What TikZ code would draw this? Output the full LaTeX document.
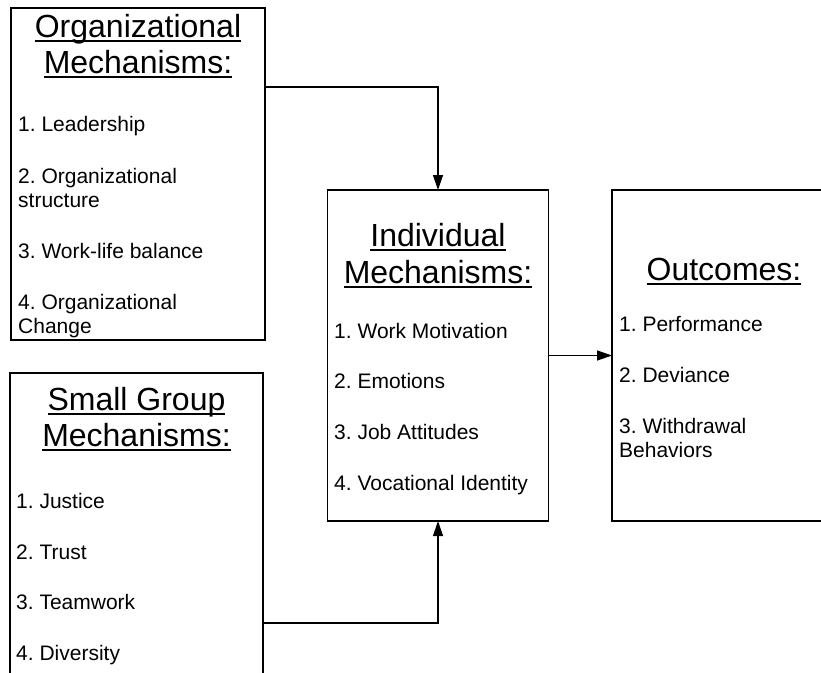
\documentclass[tikz,border=0pt]{standalone}
\usepackage{fontspec}
\setmainfont{Liberation Sans}
\usetikzlibrary{arrows.meta,calc}
\frenchspacing

% heading text with a thick rule under it
\newsavebox\headsave
\newcommand\headrule[1]{\sbox\headsave{#1}\rlap{\rule[-4.5pt]{\wd\headsave}{2pt}}\usebox\headsave}

\begin{document}
\begin{tikzpicture}[x=1pt,y=-1pt,
  box/.style={draw=black,line width=1.3pt,fill=white,rectangle,inner sep=0pt,outer sep=0pt,anchor=north west},
  head/.style={font=\fontsize{32}{36}\selectfont,inner sep=0pt,anchor=base},
  item/.style={font=\fontsize{21}{24}\selectfont,inner sep=0pt,anchor=base west},
  conn/.style={draw=black,line width=1.3pt,-{Triangle[length=15pt,width=10pt]}}]

\useasboundingbox (0,0) rectangle (821,672);
\clip (0,0) rectangle (821,672);

% boxes
\node[box,minimum width=254pt,minimum height=332pt] (org) at (11,8) {};
\node[box,minimum width=253pt,minimum height=320pt] (grp) at (10,373) {};
\node[box,minimum width=221pt,minimum height=331pt] (ind) at (327.5,190) {};
\node[box,minimum width=224pt,minimum height=331pt] (out) at (612,190) {};

% organizational mechanisms
\node[head] (org-h1) at (138,37) {\headrule{Organizational}};
\node[head] (org-h2) at (138,73) {\headrule{Mechanisms:}};
\node[item] (org-1) at (18,131) {1. Leadership};
\node[item] (org-2a) at (18,183) {2. Organizational};
\node[item] (org-2b) at (18,207) {structure};
\node[item] (org-3) at (18,258) {3. Work-life balance};
\node[item] (org-4a) at (18,309) {4. Organizational};
\node[item] (org-4b) at (18,333) {Change};

% small group mechanisms
\node[head] (grp-h1) at (136.5,410) {\headrule{Small Group}};
\node[head] (grp-h2) at (136.5,446) {\headrule{Mechanisms:}};
\node[item] (grp-1) at (16,508) {1. Justice};
\node[item] (grp-2) at (16,559) {2. Trust};
\node[item] (grp-3) at (16,609) {3. Teamwork};
\node[item] (grp-4) at (16,660) {4. Diversity};

% individual mechanisms
\node[head] (ind-h1) at (438,246) {\headrule{Individual}};
\node[head] (ind-h2) at (438,283) {\headrule{Mechanisms:}};
\node[item] (ind-1) at (334,338) {1. Work Motivation};
\node[item] (ind-2) at (334,388) {2. Emotions};
\node[item] (ind-3) at (334,439) {3. Job Attitudes};
\node[item] (ind-4) at (334,490) {4. Vocational Identity};

% outcomes
\node[head] (out-h) at (724,280) {\headrule{Outcomes:}};
\node[item] (out-1) at (619,331) {1. Performance};
\node[item] (out-2) at (619,382) {2. Deviance};
\node[item] (out-3a) at (619,433) {3. Withdrawal};
\node[item] (out-3b) at (619,457) {Behaviors};

% connectors
\draw[conn] ($(org.north east)+(0,79)$) -| (ind.north);
\draw[conn] ($(grp.north east)+(0,250)$) -| (ind.south);
\draw[conn] (ind.east) -- (out.west);
\end{tikzpicture}
\end{document}
